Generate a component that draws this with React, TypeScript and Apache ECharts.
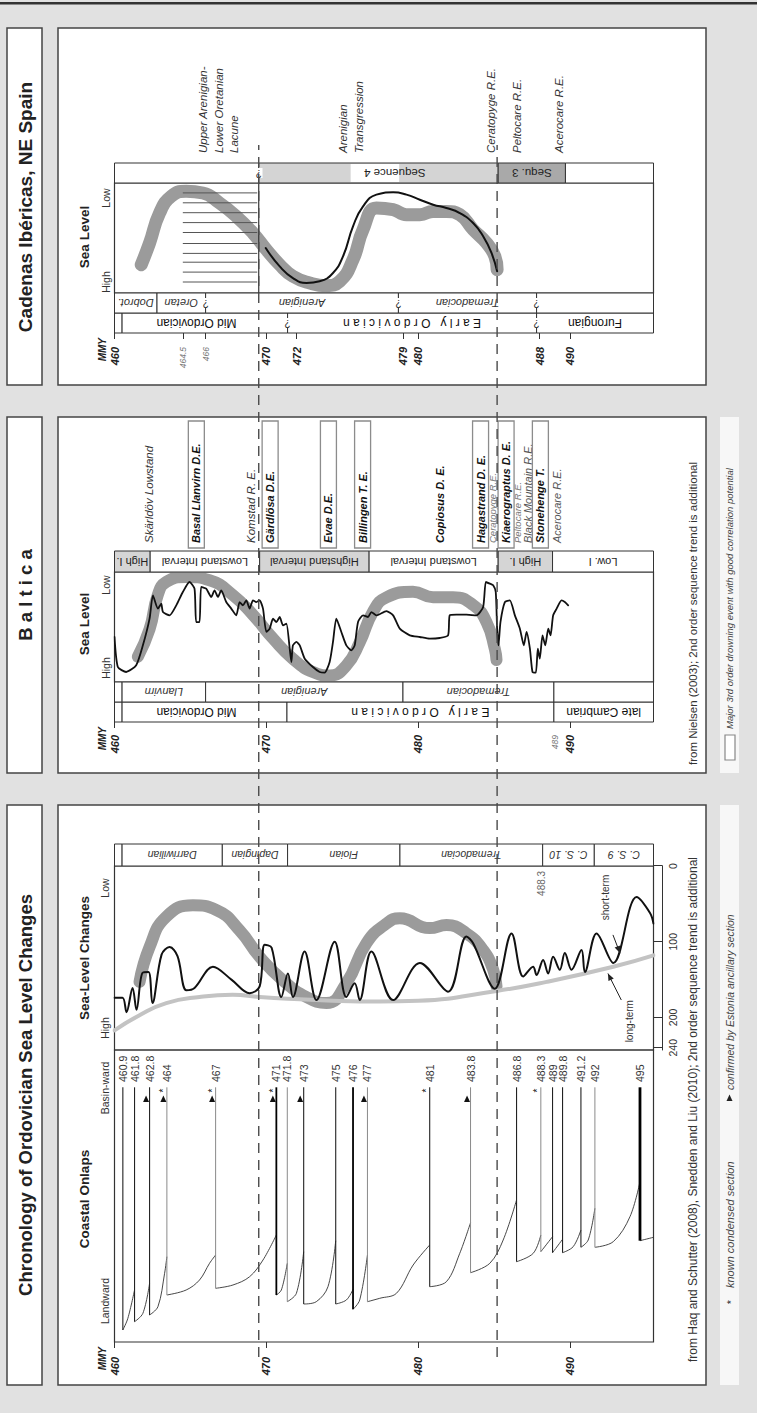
import React, { useEffect, useRef } from 'react';
import * as echarts from 'echarts';

const FONT = '"Liberation Sans", Arial, Helvetica, sans-serif';

// ---------- shared time scale (Ma) ----------
const T_MIN = 460;
const T_MAX = 495.5;
const correlationLines = [469.5, 485.2];

// ---------- Chronology of Ordovician Sea Level Changes ----------
const chronTimeLabels = [460, 470, 480, 490];
const seaLevelTicks = [0, 100, 200, 240];
const chronStages = [
  [460, 460.5, ''],
  [460.5, 467.1, 'Darriwilian'],
  [467.1, 471.4, 'Dapingian'],
  [471.4, 478.8, 'Floian'],
  [478.8, 488.2, 'Tremadocian'],
  [488.2, 491.6, 'C. S. 10'],
  [491.6, 495.5, 'C. S. 9'],
];
// plotted age, age label, landward end of onlap, weight class, condensed (*), confirmed (triangle)
const onlapEvents = [
  [460.55, '460.9', 12, 1, false, false],
  [461.32, '461.8', 20.3, 1, false, false],
  [462.31, '462.8', 27, 1, false, true],
  [463.45, '464', 47, 0, true, true],
  [466.66, '467', 53.7, 0, true, true],
  [470.66, '471', 47, 2, true, true],
  [471.38, '471.8', 40.3, 0, false, false],
  [472.46, '473', 38, 1, false, true],
  [474.57, '475', 38, 1, false, false],
  [475.71, '476', 32.7, 2, false, false],
  [476.66, '477', 40.3, 0, false, true],
  [480.76, '481', 55.3, 1, true, false],
  [483.45, '483.8', 69.3, 0, false, true],
  [486.48, '486.8', 80.3, 1, false, false],
  [488.08, '488.3', 90.3, 0, true, false],
  [488.85, '489', 89.3, 1, false, false],
  [489.51, '489.8', 89.3, 1, false, false],
  [490.72, '491.2', 94.7, 1, false, false],
  [491.64, '492', 94.7, 0, false, false],
  [494.61, '495', 101.3, 3, false, false],
];
const ONLAP_BASINWARD = 254.7;
const ONLAP_LABEL = 260;
const ONLAP_TRIANGLE = 243;
const ONLAP_STAR = 251.5;
// [age, onlap position] for each rising segment
const onlapSegments = [
  [[460.55, 12], [460.88, 23.7], [461.32, 52]],
  [[461.32, 20.3], [461.87, 28.7], [462.31, 58.7]],
  [[462.31, 27], [462.86, 35.3], [463.3, 68.7], [463.45, 85.3]],
  [[463.45, 47], [464.72, 52], [465.6, 62], [466.26, 78.7], [466.66, 87]],
  [[466.66, 53.7], [467.8, 57], [468.9, 65.3], [469.78, 82], [470.66, 107]],
  [[470.66, 47], [470.99, 52], [471.38, 78.7]],
  [[471.38, 40.3], [471.98, 48.7], [472.46, 90.3]],
  [[472.46, 38], [473.29, 40.3], [474.06, 55.3], [474.57, 101.3]],
  [[474.57, 38], [475.27, 42], [475.71, 52.7]],
  [[475.71, 32.7], [476.15, 42], [476.66, 87]],
  [[476.66, 40.3], [477.47, 43.7], [478.57, 48.7], [479.67, 77], [480.76, 97]],
  [[480.76, 55.3], [481.86, 60.3], [482.74, 88.7], [483.45, 119.3]],
  [[483.45, 69.3], [484.72, 78.7], [485.6, 102], [486.48, 142]],
  [[486.48, 80.3], [487.58, 88.7], [488.08, 107]],
  [[488.08, 90.3], [488.85, 105.3]],
  [[488.85, 89.3], [489.51, 102.7]],
  [[489.51, 89.3], [490.21, 95.3], [490.72, 112]],
  [[490.72, 94.7], [491.2, 102], [491.64, 133.7]],
  [[491.64, 94.7], [492.85, 100.3], [493.95, 125.3], [494.61, 160.3]],
  [[494.61, 101.3], [495.5, 104.7]],
];
// [age, sea level]
const chronShortTerm = [
  [460, 174], [460.53, 174], [460.79, 193], [461.19, 161], [461.45, 190], [461.85, 141], [462.24, 140],
  [462.5, 181], [463.1, 117], [463.63, 107], [464.15, 119], [464.73, 164], [465.27, 161], [466.48, 133],
  [467.7, 150], [468.9, 168], [469.56, 159], [469.89, 104], [470.35, 108], [470.99, 173], [471.42, 142],
  [471.75, 173], [472.52, 113], [473.3, 177], [474.5, 100], [475.27, 173], [475.82, 155], [476.15, 177],
  [476.92, 113], [478.35, 177], [480.11, 128], [481.97, 166], [483.18, 93], [483.62, 102], [485.05, 162],
  [486.15, 89], [486.92, 146], [487.57, 133], [487.8, 144], [488.23, 124], [488.56, 142], [488.89, 120],
  [489.33, 137], [489.66, 115], [490.1, 137], [490.76, 111], [490.98, 140], [491.75, 89], [492.85, 128],
  [494.39, 41], [495.27, 62], [495.5, 76],
];
const chronLongTerm = [
  [460, 217], [461.65, 197], [463.41, 181], [465.6, 173], [467.78, 170], [469.56, 173], [472.2, 176],
  [474.37, 178], [477.47, 179], [480, 178], [485.16, 165], [488.46, 153], [492.85, 133], [495.5, 118],
];
const chronSecondOrder = [
  [461.65, 153], [462.31, 107], [463.41, 67], [465.16, 52], [466.7, 58], [468.24, 85], [469.56, 120],
  [471.09, 151], [472.64, 173], [473.96, 181], [475.27, 155], [476.59, 102], [477.91, 76], [478.79, 69],
  [480.76, 82], [481.87, 78], [483.18, 89], [484.28, 111], [484.94, 137], [485.16, 159],
];
const chronNotes = [
  [488.15, 23, '488.3'],
  [492.37, 41.6, 'short-term'],
  [493.95, 205, 'long-term'],
];
const chronArrows = [
  [492.83, 91, 493.29, 115],
  [493.38, 177, 492.5, 142],
];

// ---------- Baltica ----------
const balticaTimeTicks = [460, 470, 480, 490];
const balticaTimeLabels = [460, 470, 480, 489, 490];
const balticaMinorLabels = [489];
const balticaSeries = [
  [460, 460.5, ''],
  [460.5, 471.36, 'Mid Ordovician'],
  [471.36, 488.94, 'E a r l y   O r d o v i c i a n'],
  [488.94, 495.5, 'late Cambrian'],
];
const balticaStages = [
  [460, 460.5, ''],
  [460.5, 466, 'Llanvirn'],
  [466, 479, 'Arenigian'],
  [479, 488.94, 'Tremadocian'],
  [488.94, 495.5, ''],
];
const balticaIntervals = [
  [460, 462.35, 'High I.', 'high'],
  [462.35, 469.56, 'Lowstand Interval', 'low'],
  [469.56, 476.77, 'Highstand Interval', 'high'],
  [476.77, 485.27, 'Lowstand Interval', 'low'],
  [485.27, 488.85, 'High I.', 'high'],
  [488.85, 495.5, 'Low. I', 'low'],
];
// [age, sea-level index 0 = high .. 100 = low]
const balticaCurve = [
  [460, 40.9], [460.22, 13.6], [460.77, 9.1], [461.43, 15.2], [461.87, 33.3], [462.31, 57.6], [462.53, 78.8],
  [462.86, 66.7], [463.08, 71.2], [463.19, 63.6], [463.63, 60.6], [464.07, 69.7], [464.5, 81.8], [464.94, 90.9],
  [465.27, 84.8], [465.38, 54.5], [465.6, 54.5], [465.71, 86.4], [466.04, 84.8], [466.37, 77.3], [466.59, 83.3],
  [466.81, 77.3], [467.03, 83.3], [467.36, 72.7], [467.69, 66.7], [468.02, 60.6], [468.24, 72.7], [468.46, 69.7],
  [468.68, 74.2], [468.9, 66.7], [469.12, 74.2], [469.34, 72.7], [469.56, 74.2], [469.78, 66.7], [470, 45.5],
  [470.22, 48.5], [470.44, 57.6], [470.66, 54.5], [470.88, 59.1], [471.1, 51.5], [471.32, 53], [471.54, 30.3],
  [471.65, 18.2], [471.75, 33.3], [471.98, 36.4], [472.2, 33.3], [472.53, 21.2], [473.07, 13.6], [473.51, 9.1],
  [473.84, 8.5], [474.17, 18.2], [474.39, 36.4], [474.61, 57.6], [474.94, 45.5], [475.27, 33.3], [475.6, 28.8],
  [475.82, 33.3], [476.04, 54.5], [476.37, 60.6], [476.7, 59.1], [476.92, 63.6], [477.25, 60.6], [477.91, 64.5],
  [478.35, 60.6], [478.79, 48.5], [479.45, 42.4], [480.11, 40.9], [480.77, 39.4], [481.42, 40], [481.97, 42.4],
  [482.08, 60.6], [482.52, 61.2], [483.18, 61.2], [483.84, 60.6], [484.28, 68.2], [484.46, 90.9], [484.72, 89.4],
  [484.94, 87.9], [485.11, 81.8], [485.2, 48.5], [485.29, 33.3], [485.42, 54.5], [485.71, 72.7], [486.04, 74.2],
  [486.37, 60.6], [486.7, 48.5], [486.96, 33.3], [487.14, 45.5], [487.36, 30.3], [487.53, 9.1], [487.75, 8.5],
  [487.88, 30.3], [488.01, 21.2], [488.19, 42.4], [488.37, 33.3], [488.57, 48.5], [488.72, 42.4], [488.89, 60.6],
  [489.12, 66.7], [489.44, 74.2], [489.66, 72.7], [489.88, 69.7],
];
const balticaSecondOrder = [
  [461.54, 23], [462.31, 48], [462.85, 79], [463.41, 91], [464.73, 95.5], [466.26, 92.5], [467.8, 79],
  [469.12, 61], [470.44, 39.5], [471.75, 21], [473.07, 9], [474.17, 6], [475.27, 15], [476.15, 36],
  [477.03, 64], [477.91, 77], [479.66, 82], [480.98, 77], [482.3, 77], [483.62, 70], [484.5, 54.5],
  [485.05, 30], [485.16, 20],
];
const balticaEvents = [
  [462.24, 'Skärldöv Lowstand', 'event'],
  [465.39, 'Basal Llanvirn D.E.', 'major'],
  [469.01, 'Komstad R. E.', 'event'],
  [470.25, 'Gärdlösa D.E.', 'major'],
  [474.09, 'Evae D.E.', 'major'],
  [476.34, 'Billingen T. E.', 'major'],
  [481.42, 'Copiosus D. E.', 'drowning'],
  [484.11, 'Hagastrand D. E.', 'major'],
  [484.92, 'Ceratopyge R.E.', 'minor'],
  [485.79, 'Kiaerograptus D. E.', 'major'],
  [486.57, 'Peltocare R.E.', 'minor'],
  [487.22, 'Black Mountain R.E.', 'regressive'],
  [488.05, 'Stonehenge T.', 'major'],
  [489.12, 'Acerocare R.E.', 'regressive'],
];

// ---------- Cadenas Ibéricas, NE Spain ----------
const cadenasTimeLabels = [460, 464.5, 466, 470, 472, 479, 480, 488, 490];
const cadenasMinorLabels = [464.5, 466];
const cadenasSeries = [
  [460, 460.5, ''],
  [460.5, 471.4, 'Mid Ordovician'],
  [471.4, 487.8, 'E a r l y   O r d o v i c i a n'],
  [487.8, 495.5, 'Furongian'],
];
const cadenasSeriesUncertain = [471.4, 487.8];
const cadenasStages = [
  [460, 462.8, 'Dobrot.'],
  [462.8, 466, 'Oretan'],
  [466, 478.7, 'Arenigian'],
  [478.7, 487.8, 'Tremadocian'],
  [487.8, 495.5, ''],
];
const cadenasStagesUncertain = [466, 478.7, 487.8];
const cadenasSequences = [
  [460, 469.5, '', 'none'],
  [469.5, 485.27, 'Sequence 4', 'seq4'],
  [485.27, 489.7, 'Sequ. 3', 'seq3'],
  [489.7, 495.5, '', 'none'],
];
const cadenasSequence4Unshaded = [[475.5, 478.8]];
const cadenasSequencesUncertain = [469.5];
const cadenasCurve = [
  [469.96, 40.9], [470.88, 24.2], [471.75, 13.6], [472.64, 9.1], [473.51, 10.6], [474.39, 18.2], [475.05, 33.3],
  [475.71, 60.6], [476.37, 78.8], [477.25, 89.4], [478.35, 91.5], [479.23, 89.4], [480.11, 84.8], [480.99, 80.3],
  [481.86, 77.3], [482.74, 72.7], [483.62, 63.6], [484.28, 51.5], [484.83, 36.4], [485.2, 19.7],
];
const cadenasSecondOrder = [
  [461.76, 25.7], [462.31, 45.5], [462.97, 72.7], [463.74, 87.9], [464.72, 92.4], [465.82, 90.9], [466.92, 81.8],
  [468.02, 69.7], [469.12, 54.5], [470, 39.4], [470.88, 25.7], [471.75, 15.2], [472.86, 9.1], [473.95, 6.7],
  [474.83, 10.6], [475.71, 30.3], [476.37, 57.6], [477.25, 77.3], [478.35, 75.8], [479.23, 71.2], [480.11, 71.2],
  [480.99, 74.2], [481.86, 74.2], [482.74, 71.2], [483.62, 57.6], [484.5, 45.5], [485.05, 33.3], [485.2, 21.2],
];
const lacuneLevels = [91, 82, 73, 64, 55, 45, 36, 28, 19, 10];
const LACUNE_FROM = 464.5;
const LACUNE_TO = 469.4;
const LACUNE_BASE = 469.5;
const cadenasEvents = [
  [466.86, 'Upper Arenigian-\nLower Oretanian\nLacune', 'event'],
  [475.58, 'Arenigian\nTransgression', 'event'],
  [484.79, 'Ceratopyge R.E.', 'event'],
  [486.5, 'Peltocare R.E.', 'event'],
  [489.3, 'Acerocare R.E.', 'event'],
];

// label centre overrides (age) for column labels
const labelCentres: Record<string, number> = { 'Mid Ordovician': 465.4, 'Sequence 4': 478.46 };

// ---------- styling ----------
const shadeFill: Record<string, string> = { none: '#ffffff', low: '#ffffff', high: '#d5d5d5', seq4: '#d4d4d4', seq3: '#a9a9a9' };
const lineWeights = [
  { color: '#8a8a8a', width: 1 },
  { color: '#222222', width: 1.1 },
  { color: '#000000', width: 1.8 },
  { color: '#000000', width: 2.8 },
];
const eventKinds: Record<string, any> = {
  major: { box: true, fontSize: 11, fontWeight: 'bold', fontStyle: 'italic', fill: '#111' },
  drowning: { box: false, fontSize: 11, fontWeight: 'bold', fontStyle: 'italic', fill: '#111' },
  event: { box: false, fontSize: 11.5, fontWeight: 'normal', fontStyle: 'italic', fill: '#333' },
  minor: { box: false, fontSize: 9.5, fontWeight: 'normal', fontStyle: 'italic', fill: '#777' },
  regressive: { box: false, fontSize: 11, fontWeight: 'normal', fontStyle: 'italic', fill: '#555' },
};
const DASH_X0 = 56;
const DASH_X1 = 1268;

function cellSeries(idx: number, cells: any[], txt: any, gaps: any[] = []) {
  const data = cells.map((c, i) => [c[0], c[1], i, 0]).concat(gaps.map((g, i) => [g[0], g[1], i, 1]));
  return {
    type: 'custom', xAxisIndex: idx, yAxisIndex: idx, clip: false, silent: true, z: 3,
    encode: { x: 2, y: [0, 1] },
    data,
    renderItem: (params: any, api: any) => {
      const a = api.coord([0, api.value(0)]);
      const b = api.coord([1, api.value(1)]);
      if (api.value(3) === 1) {
        return { type: 'rect', z2: 1, shape: { x: a[0] + 1, y: a[1] + 0.8, width: b[0] - a[0] - 2, height: b[1] - a[1] - 1.6 }, style: { fill: '#fff' } };
      }
      const c = cells[api.value(2)];
      const children: any[] = [
        { type: 'rect', z2: 0, shape: { x: a[0], y: a[1], width: b[0] - a[0], height: b[1] - a[1] }, style: { fill: shadeFill[c[3] || 'none'], stroke: '#333', lineWidth: 1 } },
      ];
      if (c[2]) {
        const ct = labelCentres[c[2]] !== undefined ? api.coord([0, labelCentres[c[2]]])[1] : (a[1] + b[1]) / 2;
        children.push({
          type: 'text', z2: 5, x: (a[0] + b[0]) / 2, y: ct, rotation: Math.PI / 2,
          style: { text: c[2], fontFamily: FONT, align: 'center', verticalAlign: 'middle', ...txt },
        });
      }
      return { type: 'group', children };
    },
  };
}

function uncertainSeries(idx: number, times: number[]) {
  return {
    type: 'custom', xAxisIndex: idx, yAxisIndex: idx, clip: false, silent: true, z: 4,
    data: times.map((t) => [0.5, t]),
    renderItem: (params: any, api: any) => {
      const c = api.coord([0.5, api.value(1)]);
      return {
        type: 'text', x: c[0], y: c[1], rotation: Math.PI / 2,
        style: { text: '?', fontSize: 10, fontFamily: FONT, fill: '#333', align: 'center', verticalAlign: 'middle', backgroundColor: '#fff', padding: [0, 1] },
      };
    },
  };
}

function eventSeries(idx: number, events: any[], lineHeight: number) {
  return {
    type: 'custom', xAxisIndex: idx, yAxisIndex: idx, clip: false, silent: true, z: 4,
    data: events.map((e, i) => [0, e[0], i]),
    renderItem: (params: any, api: any) => {
      const e = events[api.value(2)];
      const cs = params.coordSys;
      const c = api.coord([0, api.value(1)]);
      const k = eventKinds[e[2]];
      const children: any[] = [];
      if (k.box) {
        children.push({ type: 'rect', shape: { x: cs.x, y: c[1] - 8, width: cs.width, height: 16 }, style: { fill: 'none', stroke: '#8c8c8c', lineWidth: 1.3 } });
      }
      children.push({
        type: 'text', x: cs.x + 5, y: c[1],
        style: { text: e[1], fontFamily: FONT, fontSize: k.fontSize, fontWeight: k.fontWeight, fontStyle: k.fontStyle, fill: k.fill, align: 'left', verticalAlign: 'middle', lineHeight },
      });
      return { type: 'group', children };
    },
  };
}

function lineSeries(idx: number, pts: number[][], color: string, width: number, smooth: any, z: number) {
  return {
    type: 'line', xAxisIndex: idx, yAxisIndex: idx, silent: true, z,
    data: pts.map(([t, v]) => [v, t]),
    showSymbol: false, symbol: 'none', smooth,
    lineStyle: { color, width, cap: 'round', join: 'round' },
  };
}

function timeAxis(i: number, ticks: number[], labels: number[], minor: number[], margin: number) {
  return {
    type: 'value', gridIndex: i, min: T_MIN, max: T_MAX, inverse: true, position: 'left',
    axisLine: { show: false }, splitLine: { show: false },
    axisTick: { show: true, length: 6, customValues: ticks, lineStyle: { color: '#333', width: 1 } },
    axisLabel: {
      customValues: labels, margin, fontFamily: FONT,
      formatter: (v: number) => (minor.includes(v) ? `{m|${v}}` : `{b|${v}}`),
      rich: {
        b: { fontFamily: FONT, fontSize: 11, fontWeight: 'bold', fontStyle: 'italic', color: '#222' },
        m: { fontFamily: FONT, fontSize: 8.5, fontStyle: 'italic', color: '#777' },
      },
    },
  };
}

function gText(x: number, y: number, text: string, o: any = {}) {
  const align = o.align || 'center';
  return {
    type: 'text', x, y, z: 10, silent: true,
    style: {
      text, fill: o.fill || '#222', fontSize: o.size || 11, fontWeight: o.weight || 'normal',
      fontStyle: o.italic ? 'italic' : 'normal', fontFamily: FONT,
      align, verticalAlign: 'middle', textAlign: align, textVerticalAlign: 'middle',
    },
  };
}

function buildOption() {
  const gridDefs = [
    { left: 71, width: 292, show: true },
    { left: 363, width: 184, show: true },
    { left: 547, width: 22 },
    { left: 691, width: 20 },
    { left: 711, width: 20 },
    { left: 731, width: 110, show: true },
    { left: 841, width: 21 },
    { left: 865, width: 127 },
    { left: 1080, width: 20 },
    { left: 1100, width: 20 },
    { left: 1120, width: 110, show: true },
    { left: 1230, width: 20 },
    { left: 1255, width: 120 },
  ];
  const grid = gridDefs.map((g) => ({ top: 114.5, height: 539, borderColor: '#333', borderWidth: 1.2, backgroundColor: 'transparent', show: false, ...g }));
  const xAxis: any[] = grid.map((_, i) => ({ type: 'value', gridIndex: i, min: 0, max: 1, show: false }));
  xAxis[0] = { type: 'value', gridIndex: 0, min: 0, max: 292, show: false };
  xAxis[1] = {
    type: 'value', gridIndex: 1, min: 0, max: 243, inverse: true, position: 'bottom', offset: 9,
    axisLine: { show: true, lineStyle: { color: '#333', width: 1 } },
    axisTick: { show: true, inside: true, length: 9, customValues: seaLevelTicks, lineStyle: { color: '#333' } },
    axisLabel: { customValues: seaLevelTicks, fontSize: 10.5, color: '#333', margin: 5, fontFamily: FONT },
    splitLine: { show: false },
  };
  xAxis[5] = { type: 'value', gridIndex: 5, min: 0, max: 100, show: false };
  xAxis[10] = { type: 'value', gridIndex: 10, min: 0, max: 100, show: false };

  const yAxis: any[] = grid.map((_, i) => ({ type: 'value', gridIndex: i, min: T_MIN, max: T_MAX, inverse: true, show: false }));
  yAxis[0] = timeAxis(0, chronTimeLabels, chronTimeLabels, [], 15);
  yAxis[3] = timeAxis(3, balticaTimeTicks, balticaTimeLabels, balticaMinorLabels, 13);
  yAxis[8] = timeAxis(8, cadenasTimeLabels, cadenasTimeLabels, cadenasMinorLabels, 14);

  const colTxtMain = { fontSize: 12, fill: '#111' };
  const colTxtStage = { fontSize: 11, fontStyle: 'italic', fill: '#333' };
  const colTxtSeq = { fontSize: 11, fill: '#222' };

  const series: any[] = [
    // stage / series columns
    cellSeries(2, chronStages, { fontSize: 10.5, fontStyle: 'italic', fill: '#333' }),
    cellSeries(3, balticaSeries, colTxtMain),
    cellSeries(4, balticaStages, colTxtStage),
    cellSeries(6, balticaIntervals, colTxtSeq),
    cellSeries(8, cadenasSeries, colTxtMain),
    cellSeries(9, cadenasStages, colTxtStage),
    cellSeries(11, cadenasSequences, { fontSize: 11.5, fill: '#222' }, cadenasSequence4Unshaded),
    uncertainSeries(8, cadenasSeriesUncertain),
    uncertainSeries(9, cadenasStagesUncertain),
    uncertainSeries(11, cadenasSequencesUncertain),

    // coastal onlaps
    {
      type: 'custom', xAxisIndex: 0, yAxisIndex: 0, clip: false, silent: true, z: 3,
      data: onlapSegments.map((s, i) => [s[0][1], s[0][0], i]),
      renderItem: (params: any, api: any) => {
        const seg = onlapSegments[api.value(2)];
        const points = seg.map(([t, p]) => api.coord([p, t]));
        return { type: 'polyline', shape: { points, smooth: 0.35 }, style: { stroke: '#333', lineWidth: 0.9, fill: 'none' } };
      },
    },
    {
      type: 'custom', xAxisIndex: 0, yAxisIndex: 0, clip: false, silent: true, z: 4,
      data: onlapEvents.map((e, i) => [e[2], e[0], i]),
      renderItem: (params: any, api: any) => {
        const e: any = onlapEvents[api.value(2)];
        const t = e[0];
        const a = api.coord([e[2], t]);
        const b = api.coord([ONLAP_BASINWARD, t]);
        const l = api.coord([ONLAP_LABEL, t]);
        const w = lineWeights[e[3]];
        const ch: any[] = [
          { type: 'line', shape: { x1: a[0], y1: a[1], x2: b[0], y2: b[1] }, style: { stroke: w.color, lineWidth: w.width } },
          { type: 'text', x: l[0], y: l[1], style: { text: e[1], fontSize: 10.5, fontFamily: FONT, fill: '#333', align: 'left', verticalAlign: 'middle' } },
        ];
        if (e[5]) {
          const m = api.coord([ONLAP_TRIANGLE, t]);
          const cx = m[0], cy = m[1] - 3.5;
          ch.push({ type: 'polygon', shape: { points: [[cx - 3, cy - 3], [cx + 3.5, cy], [cx - 3, cy + 3]] }, style: { fill: '#111' } });
        }
        if (e[4]) {
          const m = api.coord([ONLAP_STAR, t]);
          ch.push({ type: 'text', x: m[0], y: m[1] - 3, style: { text: '*', fontSize: 10, fontFamily: FONT, fill: '#111', align: 'center', verticalAlign: 'middle' } });
        }
        return { type: 'group', children: ch };
      },
    },

    // chronology sea level
    lineSeries(1, chronSecondOrder, '#9b9b9b', 12, true, 2),
    lineSeries(1, chronLongTerm, '#c3c3c3', 4, true, 3),
    lineSeries(1, chronShortTerm, '#111', 2, 0.35, 4),
    {
      type: 'custom', xAxisIndex: 1, yAxisIndex: 1, clip: false, silent: true, z: 5,
      data: chronNotes.map((n, i) => [n[1], n[0], i]),
      renderItem: (params: any, api: any) => {
        const n: any = chronNotes[api.value(2)];
        const c = api.coord([n[1], n[0]]);
        return { type: 'text', x: c[0], y: c[1], style: { text: n[2], fontSize: 10, fontFamily: FONT, fill: api.value(2) === 0 ? '#666' : '#333', align: 'center', verticalAlign: 'middle' } };
      },
    },
    {
      type: 'custom', xAxisIndex: 1, yAxisIndex: 1, clip: false, silent: true, z: 5,
      data: chronArrows.map((a, i) => [a[1], a[0], i]),
      renderItem: (params: any, api: any) => {
        const r = chronArrows[api.value(2)];
        const a = api.coord([r[1], r[0]]);
        const b = api.coord([r[3], r[2]]);
        const ang = Math.atan2(b[1] - a[1], b[0] - a[0]);
        const L = 7, W = 3;
        const p1 = [b[0] - L * Math.cos(ang) + W * Math.sin(ang), b[1] - L * Math.sin(ang) - W * Math.cos(ang)];
        const p2 = [b[0] - L * Math.cos(ang) - W * Math.sin(ang), b[1] - L * Math.sin(ang) + W * Math.cos(ang)];
        return {
          type: 'group', children: [
            { type: 'line', shape: { x1: a[0], y1: a[1], x2: b[0], y2: b[1] }, style: { stroke: '#222', lineWidth: 1 } },
            { type: 'polygon', shape: { points: [b, p1, p2] }, style: { fill: '#222' } },
          ],
        };
      },
    },

    // baltica
    lineSeries(5, balticaSecondOrder, '#9b9b9b', 12, true, 2),
    lineSeries(5, balticaCurve, '#111', 1.8, 0.2, 4),
    eventSeries(7, balticaEvents, 14),

    // cadenas
    lineSeries(10, cadenasSecondOrder, '#9b9b9b', 13, true, 2),
    lineSeries(10, cadenasCurve, '#111', 2, true, 4),
    {
      type: 'custom', xAxisIndex: 10, yAxisIndex: 10, clip: false, silent: true, z: 3,
      data: lacuneLevels.map((v) => [v, LACUNE_FROM]),
      renderItem: (params: any, api: any) => {
        const v = api.value(0);
        const a = api.coord([v, LACUNE_FROM]);
        const b = api.coord([v, LACUNE_TO]);
        return { type: 'line', shape: { x1: a[0], y1: a[1], x2: b[0], y2: b[1] }, style: { stroke: '#555', lineWidth: 1 } };
      },
    },
    {
      type: 'custom', xAxisIndex: 10, yAxisIndex: 10, clip: false, silent: true, z: 3,
      data: [[0, LACUNE_BASE]],
      renderItem: (params: any, api: any) => {
        const a = api.coord([0, api.value(1)]);
        const b = api.coord([100, api.value(1)]);
        return { type: 'line', shape: { x1: a[0], y1: a[1], x2: b[0], y2: b[1] }, style: { stroke: '#333', lineWidth: 1.2 } };
      },
    },
    eventSeries(12, cadenasEvents, 15.5),

    // correlation lines
    {
      type: 'custom', xAxisIndex: 10, yAxisIndex: 10, clip: false, silent: true, z: 6,
      data: correlationLines.map((t) => [0, t]),
      renderItem: (params: any, api: any) => {
        const c = api.coord([0, api.value(1)]);
        return { type: 'line', shape: { x1: DASH_X0, y1: c[1], x2: DASH_X1, y2: c[1] }, style: { stroke: '#4a4a4a', lineWidth: 1.4, lineDash: [10, 7] } };
      },
    },
  ];

  const boxes = [[28, 580], [640, 356], [1028, 357]];
  const graphic: any[] = [
    { type: 'rect', z: -1, silent: true, shape: { x: 1408.5, y: 0, width: 2.5, height: 757 }, style: { fill: '#333' } },
    ...boxes.map(([x, w]) => ({ type: 'rect', z: -1, silent: true, shape: { x, y: 7, width: w, height: 35 }, style: { fill: '#fff', stroke: '#444', lineWidth: 1.5 } })),
    ...boxes.map(([x, w]) => ({ type: 'rect', z: -1, silent: true, shape: { x, y: 58, width: w, height: 648 }, style: { fill: '#fff', stroke: '#444', lineWidth: 1.5 } })),
    { type: 'rect', z: -1, silent: true, shape: { x: 28, y: 720, width: 580, height: 19 }, style: { fill: '#f7f7f7' } },
    { type: 'rect', z: -1, silent: true, shape: { x: 640, y: 720, width: 356, height: 19 }, style: { fill: '#f7f7f7' } },

    gText(318, 25, 'Chronology of Ordovician Sea Level Changes', { size: 18.5, weight: 'bold' }),
    gText(818, 25, 'B a l t i c a', { size: 18.5, weight: 'bold' }),
    gText(1206, 25, 'Cadenas Ibéricas, NE Spain', { size: 19, weight: 'bold' }),

    gText(214, 84, 'Coastal Onlaps', { size: 13.5, weight: 'bold' }),
    gText(112, 105, 'Landward', { size: 10.5, fill: '#333' }),
    gText(325, 105, 'Basin-ward', { size: 10.5, fill: '#333' }),
    gText(455, 84, 'Sea-Level Changes', { size: 13.5, weight: 'bold' }),
    gText(385, 105, 'High', { size: 10.5, fill: '#333' }),
    gText(525, 105, 'Low', { size: 10.5, fill: '#333' }),
    gText(789, 84, 'Sea Level', { size: 13.5, weight: 'bold' }),
    gText(745, 106, 'High', { size: 10.5, fill: '#333' }),
    gText(828, 106, 'Low', { size: 10.5, fill: '#333' }),
    gText(1176, 84, 'Sea Level', { size: 13.5, weight: 'bold' }),
    gText(1131, 106, 'High', { size: 10.5, fill: '#333' }),
    gText(1215, 106, 'Low', { size: 10.5, fill: '#333' }),

    gText(66, 102, 'MMY', { size: 10, weight: 'bold', italic: true, align: 'right' }),
    gText(686, 102, 'MMY', { size: 10, weight: 'bold', italic: true, align: 'right' }),
    gText(1075, 102, 'MMY', { size: 10, weight: 'bold', italic: true, align: 'right' }),

    gText(51, 693, 'from Haq and Schutter (2008), Snedden and Liu (2010); 2nd order sequence trend is additional', { size: 12, fill: '#333', align: 'left' }),
    gText(648, 693, 'from Nielsen (2003); 2nd order sequence trend is additional', { size: 11.5, fill: '#333', align: 'left' }),

    { type: 'rect', z: 5, silent: true, shape: { x: 653, y: 725, width: 25, height: 10 }, style: { fill: '#fff', stroke: '#888', lineWidth: 1.2 } },
    gText(684, 729.5, 'Major 3rd order drowning event with good correlation potential', { size: 9.5, italic: true, fill: '#444', align: 'left' }),
    gText(111, 730.5, '*', { size: 11, fill: '#222' }),
    gText(125, 729.5, 'known condensed section', { size: 11, italic: true, fill: '#444', align: 'left' }),
    { type: 'polygon', z: 5, silent: true, shape: { points: [[312, 726.5], [318.5, 729.5], [312, 732.5]] }, style: { fill: '#222' } },
    gText(323, 729.5, 'confirmed by Estonia ancillary section', { size: 10.5, italic: true, fill: '#444', align: 'left' }),
  ];

  return { animation: false, backgroundColor: '#e1e1e1', grid, xAxis, yAxis, series, graphic };
}

export default function App() {
  const ref = useRef<HTMLDivElement>(null);
  useEffect(() => {
    if (!ref.current) return;
    const chart = echarts.init(ref.current, null, { renderer: 'svg' });
    chart.setOption(buildOption() as any);
    return () => chart.dispose();
  }, []);
  return (
    <div style={{ position: 'fixed', left: 0, top: 0, width: 757, height: 1413, overflow: 'hidden', background: '#e1e1e1' }}>
      <div
        ref={ref}
        style={{ position: 'absolute', left: 0, top: 0, width: 1413, height: 757, transformOrigin: '0 0', transform: 'translate(0px, 1413px) rotate(-90deg)' }}
      />
    </div>
  );
}
